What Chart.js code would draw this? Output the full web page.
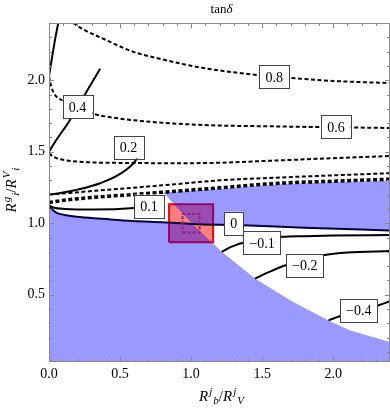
<!DOCTYPE html>
<html lang="en">
<head>
<meta charset="UTF-8" />
<title>tan delta</title>
<script src="https://cdn.jsdelivr.net/npm/chart.js"></script>
<style>
  html, body { margin: 0; padding: 0; background: #fff; }
</style>
</head>
<body>
<canvas id="chart" width="390" height="409"></canvas>
<script>
// axes
const xRange = [0, 2.4];
const yRange = [0.03, 2.4];
const xMajorTicks = [0, 0.5, 1.0, 1.5, 2.0];
const xTickLabels = ['0.0', '0.5', '1.0', '1.5', '2.0'];
const yMajorTicks = [0.5, 1.0, 1.5, 2.0];
const yTickLabels = ['0.5', '1.0', '1.5', '2.0'];

// contour lines, [x, y]
const cTopSolid = [[0, 2.03], [0.005, 2.06], [0.02, 2.15], [0.04, 2.27], [0.065, 2.40]];
const c08 = [[0.17, 2.40], [0.25, 2.35], [0.36, 2.30], [0.59, 2.20], [0.8, 2.145], [1.06, 2.09], [1.3, 2.055], [1.59, 2.025], [2.0, 1.995], [2.4, 1.98]];
const c06 = [[0, 2.03], [0.015, 1.96], [0.04, 1.9], [0.1, 1.855], [0.2, 1.80], [0.3, 1.767], [0.6, 1.72], [1.06, 1.688], [1.6, 1.677], [2.4, 1.666]];
const c04 = [[0, 1.50], [0.05, 1.58], [0.14, 1.71], [0.27, 1.93], [0.36, 2.08]];
const c04low = [[0, 1.49], [0.03, 1.465], [0.12, 1.44], [0.5, 1.422], [1.0, 1.42], [1.63, 1.44], [2.0, 1.455], [2.4, 1.47]];
const c02 = [[0, 1.20], [0.1, 1.215], [0.2, 1.235], [0.36, 1.28], [0.5, 1.345], [0.61, 1.44], [0.625, 1.47]];
const c02low = [[0, 1.20], [0.3, 1.225], [0.82, 1.267], [1.2, 1.30], [1.63, 1.32], [2.0, 1.335], [2.4, 1.35]];
const cBand = [[0, 1.145], [0.1, 1.16], [0.3, 1.18], [0.55, 1.198], [0.82, 1.218], [1.2, 1.248], [1.63, 1.28], [2.0, 1.294], [2.4, 1.308]];
const c01 = [[0, 1.125], [0.03, 1.11], [0.11, 1.10], [0.32, 1.096], [0.6, 1.107], [0.70, 1.12]];
const c0 = [[0, 1.115], [0.05, 1.075], [0.12, 1.056], [0.25, 1.04], [0.35, 1.033], [0.59, 1.016], [0.8, 1.007], [1.01, 0.995], [1.37, 0.986], [1.8, 0.968], [2.4, 0.95]];
const cm01 = [[1.216, 0.80], [1.26, 0.825], [1.30, 0.842], [1.36, 0.862], [1.50, 0.885], [1.64, 0.905], [1.8, 0.91], [2.0, 0.914], [2.4, 0.918]];
const cm02 = [[1.45, 0.613], [1.55, 0.66], [1.66, 0.705], [1.80, 0.745], [1.93, 0.776], [2.1, 0.795], [2.4, 0.806]];
const cm04 = [[1.967, 0.32], [2.045, 0.35], [2.18, 0.39], [2.32, 0.427], [2.4, 0.455]];

// edges of the shaded (excluded) region
const edgeDiag = [[0.805, 1.215], [0.9, 1.11], [1.01, 0.995], [1.216, 0.80], [1.45, 0.613], [1.7, 0.46], [1.967, 0.32], [2.12, 0.25], [2.4, 0.17]];
const edgeTop = [[0.805, 1.215], [1.0, 1.228], [1.2, 1.24], [1.63, 1.272], [2.0, 1.286], [2.4, 1.298]];

// boxes around the point (1, 1)
const outerBox = [[0.845, 0.867], [1.155, 0.867], [1.155, 1.133], [0.845, 1.133], [0.845, 0.867]];
const innerBox = [[0.94, 0.935], [1.06, 0.935], [1.06, 1.065], [0.94, 1.065], [0.94, 0.935]];

// contour labels
const labelTexts = ['0.8', '0.6', '0.4', '0.2', '0.1', '0', '\u22120.1', '\u22120.2', '\u22120.4'];
const labelX = [1.585, 2.02, 0.20, 0.56, 0.704, 1.30, 1.50, 1.80, 2.18];
const labelY = [2.023, 1.673, 1.813, 1.533, 1.12, 1.0, 0.862, 0.704, 0.392];

const pts = a => a.map(p => ({ x: p[0], y: p[1] }));

// lower-left shaded area: under the 0 contour up to the diagonal, then under the diagonal
const shadeLow = [[0, 0]].concat(c0.filter(p => p[0] <= 1.01), edgeDiag.filter(p => p[0] > 1.01), [[2.4, 0]]);
// upper-right shaded area: between the top edge and the 0 contour / diagonal
const shadeHigh = edgeTop.concat(c0.filter(p => p[0] > 1.01).reverse(), edgeDiag.filter(p => p[0] <= 1.01).reverse());

function contour(data, dashed, extra) {
  return Object.assign({
    data: pts(data),
    borderColor: '#000',
    borderWidth: 2,
    borderDash: dashed ? [4, 2.5] : [],
    pointRadius: 0,
    fill: false,
    cubicInterpolationMode: 'monotone',
    order: 10
  }, extra || {});
}

function polygon(data, color, extra) {
  return Object.assign({
    data: pts(data),
    borderColor: 'rgba(0,0,0,0)',
    borderWidth: 1,
    backgroundColor: color,
    pointRadius: 0,
    tension: 0,
    fill: 'shape'
  }, extra || {});
}

const SERIF = '"Liberation Serif", "DejaVu Serif", serif';

function richText(ctx, parts, cx, baseY) {
  // parts: [text, size, italic, dy, gapAfter]
  let w = 0;
  parts.forEach(p => {
    ctx.font = (p[2] ? 'italic ' : '') + p[1] + 'px ' + SERIF;
    w += ctx.measureText(p[0]).width + (p[4] || 0);
  });
  let x = cx - w / 2;
  ctx.textAlign = 'left';
  ctx.textBaseline = 'alphabetic';
  parts.forEach(p => {
    ctx.font = (p[2] ? 'italic ' : '') + p[1] + 'px ' + SERIF;
    ctx.fillText(p[0], x, baseY + p[3]);
    x += ctx.measureText(p[0]).width + (p[4] || 0);
  });
}

const framePlugin = {
  id: 'frame',
  afterDatasetsDraw(chart) {
    const ctx = chart.ctx;
    const a = chart.chartArea;
    const xs = chart.scales.x, ys = chart.scales.y;

    // contour labels
    ctx.save();
    ctx.font = '14px ' + SERIF;
    ctx.textAlign = 'center';
    ctx.textBaseline = 'middle';
    labelTexts.forEach((t, i) => {
      const px = xs.getPixelForValue(labelX[i]);
      const py = ys.getPixelForValue(labelY[i]);
      const w = ctx.measureText(t).width + 12;
      const h = 23;
      ctx.fillStyle = '#fff';
      ctx.fillRect(px - w / 2, py - h / 2, w, h);
      ctx.strokeStyle = '#444';
      ctx.lineWidth = 1;
      ctx.strokeRect(Math.round(px - w / 2) + 0.5, Math.round(py - h / 2) + 0.5, Math.round(w), h);
      ctx.fillStyle = '#000';
      ctx.fillText(t, px, py + 1);
    });
    ctx.restore();

    // frame and ticks
    ctx.save();
    ctx.strokeStyle = '#888';
    ctx.lineWidth = 1;
    ctx.strokeRect(a.left + 0.5, a.top + 0.5, a.right - a.left - 1, a.bottom - a.top - 1);
    ctx.beginPath();
    for (let i = 0; i <= 24; i++) {
      const v = i / 10;
      const major = i % 5 === 0;
      const len = major ? 5 : 3;
      const px = Math.round(xs.getPixelForValue(v)) + 0.5;
      ctx.moveTo(px, a.bottom); ctx.lineTo(px, a.bottom - len);
      ctx.moveTo(px, a.top); ctx.lineTo(px, a.top + len);
      if (v >= yRange[0]) {
        const py = Math.round(ys.getPixelForValue(v)) + 0.5;
        ctx.moveTo(a.left, py); ctx.lineTo(a.left + len, py);
        ctx.moveTo(a.right, py); ctx.lineTo(a.right - len, py);
      }
    }
    ctx.stroke();

    // tick labels
    ctx.fillStyle = '#000';
    ctx.font = '14px ' + SERIF;
    ctx.textAlign = 'center';
    ctx.textBaseline = 'middle';
    xMajorTicks.forEach((v, i) => ctx.fillText(xTickLabels[i], xs.getPixelForValue(v), a.bottom + 12));
    ctx.textAlign = 'right';
    yMajorTicks.forEach((v, i) => ctx.fillText(yTickLabels[i], a.left - 4, ys.getPixelForValue(v)));

    // title
    const cx = (a.left + a.right) / 2;
    richText(ctx, [['tan', 13, false, 0, 0], ['\u03b4', 13, true, 0, 0]], cx + 2, 13);

    // x axis title
    richText(ctx, [
      ['R', 15, true, 0, 1], ['j', 11, true, -6, 1], ['b', 11, true, 3, 0],
      ['/', 15, false, 0, 0],
      ['R', 15, true, 0, 1], ['j', 11, true, -6, 1], ['V', 11, true, 3, 0]
    ], cx + 2, 401);

    // y axis title
    ctx.translate(16, 190);
    ctx.rotate(-Math.PI / 2);
    richText(ctx, [
      ['R', 15, true, 0, 1], ['g', 11, true, -6, 1], ['i', 11, true, 3, 0],
      ['/', 15, false, 0, 0],
      ['R', 15, true, 0, 1], ['V', 11, true, -6, 1], ['i', 11, true, 3, 0]
    ], 0, 0);
    ctx.restore();
  }
};

new Chart(document.getElementById('chart'), {
  type: 'line',
  data: {
    datasets: [
      polygon(outerBox, 'rgba(255,0,0,0.5)', { borderColor: '#ff0000', borderWidth: 2, order: 20 }),
      contour(cTopSolid, false),
      contour(c08, true),
      contour(c06, true),
      contour(c04, false),
      contour(c04low, true),
      contour(c02, false),
      contour(c02low, true),
      contour(c01, false),
      contour(c0, false),
      contour(cm01, false),
      contour(cm02, false),
      contour(cm04, false),
      polygon(shadeLow, 'rgba(0,0,255,0.4)', { order: 5 }),
      polygon(shadeHigh, 'rgba(0,0,255,0.4)', { order: 5 }),
      contour(cBand, true, { borderWidth: 3.5, order: 3 }),
      polygon(innerBox, 'rgba(0,0,0,0)', { borderColor: '#92207a', borderWidth: 2, borderDash: [3, 2], fill: false, order: 1 })
    ]
  },
  options: {
    responsive: false,
    animation: false,
    layout: { padding: { left: 49, right: 0, top: 23, bottom: 47 } },
    plugins: { legend: { display: false }, tooltip: { enabled: false } },
    scales: {
      x: { type: 'linear', min: xRange[0], max: xRange[1], display: false },
      y: { type: 'linear', min: yRange[0], max: yRange[1], display: false }
    }
  },
  plugins: [framePlugin]
});
</script>
</body>
</html>
